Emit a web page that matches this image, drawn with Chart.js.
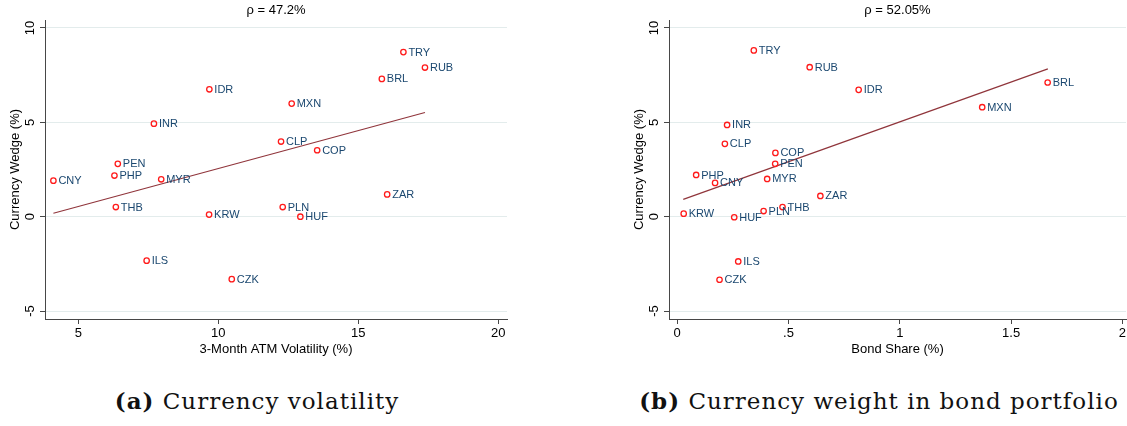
<!DOCTYPE html>
<html>
<head>
<meta charset="utf-8">
<script src="https://cdn.jsdelivr.net/npm/chart.js@4.4.1/dist/chart.umd.min.js"></script>
<style>
  html, body { margin: 0; padding: 0; background: #ffffff; }
  body { width: 1127px; height: 426px; position: relative; overflow: hidden; }
  canvas { position: absolute; top: 0; }
  #chartA { left: 0; }
  #chartB { left: 600px; }
  .caption {
    position: absolute; top: 387px; font-family: "DejaVu Serif", serif;
    font-size: 23px; letter-spacing: 1px; color: #111; white-space: nowrap;
    transform: translateX(-50%);
  }
  .caption b { font-weight: bold; }
</style>
</head>
<body>
<canvas id="chartA" width="520" height="362"></canvas>
<canvas id="chartB" width="527" height="362"></canvas>
<div class="caption" style="left:257px"><b>(a)</b> Currency volatility</div>
<div class="caption" style="left:879px"><b>(b)</b> Currency weight in bond portfolio</div>

<script>
// Currencies, in the same order for every series below
const currencies = ['CNY','PHP','PEN','THB','ILS','INR','MYR','KRW','IDR','CZK','CLP','PLN','MXN','HUF','COP','BRL','ZAR','TRY','RUB'];

// Panel (a): 3-month ATM implied volatility (%) vs currency wedge (%)
const atmVolatility = [4.11, 6.29, 6.41, 6.34, 7.44, 7.70, 7.96, 9.67, 9.68, 10.48, 12.24, 12.30, 12.62, 12.93, 13.53, 15.84, 16.03, 16.61, 17.38];
const wedgeA = [1.91, 2.18, 2.80, 0.51, -2.33, 4.93, 1.98, 0.11, 6.75, -3.31, 3.98, 0.51, 5.99, 0.00, 3.52, 7.30, 1.18, 8.72, 7.90];
const fitAx = [4.11, 17.38];
const fitAy = [0.18, 5.52];
const rhoA = 'ρ = 47.2%';

// Panel (b): bond portfolio share (%) vs currency wedge (%)
const bondShare = [0.170, 0.085, 0.440, 0.473, 0.274, 0.224, 0.404, 0.029, 0.815, 0.190, 0.214, 0.388, 1.370, 0.256, 0.441, 1.664, 0.643, 0.344, 0.595];
const wedgeB = [1.79, 2.21, 2.80, 0.51, -2.37, 4.86, 2.00, 0.16, 6.72, -3.34, 3.86, 0.30, 5.80, -0.03, 3.38, 7.11, 1.10, 8.81, 7.92];
const fitBx = [0.027, 1.665];
const fitBy = [0.92, 7.83];
const rhoB = 'ρ = 52.05%';

// Axis ticks
const yTicks = [-5, 0, 5, 10];
const yTickLabels = ['-5', '0', '5', '10'];
const xTicksA = [5, 10, 15, 20];
const xTickLabelsA = ['5', '10', '15', '20'];
const xTicksB = [0, 0.5, 1, 1.5, 2];
const xTickLabelsB = ['0', '.5', '1', '1.5', '2'];

const yTitle = 'Currency Wedge (%)';
const xTitleA = '3-Month ATM Volatility (%)';
const xTitleB = 'Bond Share (%)';

const SANS = '"Liberation Sans", Arial, Helvetica, sans-serif';
const AXIS_COLOR = '#474747';
const GRID_COLOR = '#e3ecec';
const LABEL_COLOR = '#1a476f';
const MARKER_COLOR = '#ff1a1a';
const FIT_COLOR = '#90353b';

// Draws titles, tick labels and marker labels on top of the plot
const annotate = {
  id: 'annotate',
  afterDraw(chart, args, opts) {
    const ctx = chart.ctx;
    const area = chart.chartArea;
    const xs = chart.scales.x, ys = chart.scales.y;
    ctx.save();
    ctx.fillStyle = '#000';
    ctx.textAlign = 'center';
    ctx.textBaseline = 'middle';

    // title
    ctx.font = '13px ' + SANS;
    ctx.fillText(opts.title, (area.left + area.right) / 2, 10);

    // y tick labels, rotated
    opts.yTicks.forEach((v, i) => {
      const py = ys.getPixelForValue(v);
      ctx.save();
      ctx.translate(area.left - 15, py);
      ctx.rotate(-Math.PI / 2);
      ctx.fillText(opts.yTickLabels[i], 0, 0);
      ctx.restore();
    });

    // y title
    ctx.save();
    ctx.translate(area.left - 30, (area.top + area.bottom) / 2);
    ctx.rotate(-Math.PI / 2);
    ctx.fillText(opts.yTitle, 0, 0);
    ctx.restore();

    // x tick labels
    opts.xTicks.forEach((v, i) => {
      ctx.fillText(opts.xTickLabels[i], xs.getPixelForValue(v), area.bottom + 14);
    });

    // x title
    ctx.fillText(opts.xTitle, (area.left + area.right) / 2, area.bottom + 30);

    // marker labels to the right of each point
    const meta = chart.getDatasetMeta(0);
    ctx.fillStyle = LABEL_COLOR;
    ctx.textAlign = 'left';
    ctx.font = '11px ' + SANS;
    meta.data.forEach((pt, i) => {
      ctx.fillText(opts.labels[i], pt.x + 5, pt.y + 0.5);
    });
    ctx.restore();
  }
};

function makePanel(canvasId, cfg) {
  const points = cfg.x.map((v, i) => ({ x: v, y: cfg.y[i] }));
  const fit = cfg.fitX.map((v, i) => ({ x: v, y: cfg.fitY[i] }));
  return new Chart(document.getElementById(canvasId), {
    type: 'scatter',
    data: {
      datasets: [
        {
          data: points,
          pointStyle: 'circle',
          pointRadius: 2.7,
          pointHoverRadius: 2.7,
          pointBorderWidth: 1.3,
          pointBorderColor: MARKER_COLOR,
          pointBackgroundColor: 'rgba(0,0,0,0)',
          showLine: false,
          order: 1
        },
        {
          data: fit,
          showLine: true,
          borderColor: FIT_COLOR,
          borderWidth: 1.2,
          pointRadius: 0,
          fill: false,
          order: 2
        }
      ]
    },
    options: {
      responsive: false,
      animation: false,
      devicePixelRatio: 1,
      layout: { autoPadding: false, padding: { top: 20, right: cfg.padRight, bottom: 0, left: 0 } },
      plugins: {
        legend: { display: false },
        tooltip: { enabled: false },
        annotate: {
          title: cfg.title,
          yTicks: yTicks, yTickLabels: yTickLabels,
          xTicks: cfg.xTicks, xTickLabels: cfg.xTickLabels,
          yTitle: yTitle, xTitle: cfg.xTitle,
          labels: currencies
        }
      },
      scales: {
        x: {
          type: 'linear',
          min: cfg.xMin, max: cfg.xMax,
          afterBuildTicks: s => { s.ticks = cfg.xTicks.map(v => ({ value: v })); },
          afterFit: s => { s.height = 43; },
          ticks: { display: false },
          grid: { drawOnChartArea: false, drawTicks: true, tickLength: 5, tickColor: AXIS_COLOR, tickWidth: 1 },
          border: { display: true, color: AXIS_COLOR, width: 1 }
        },
        y: {
          type: 'linear',
          min: -5.42, max: 10.42,
          afterBuildTicks: s => { s.ticks = yTicks.map(v => ({ value: v })); },
          afterFit: s => { s.width = cfg.yWidth; },
          ticks: { display: false },
          grid: { color: GRID_COLOR, lineWidth: 1, drawTicks: true, tickLength: 5, tickColor: AXIS_COLOR, tickWidth: 1 },
          border: { display: true, color: AXIS_COLOR, width: 1 }
        }
      }
    },
    plugins: [annotate]
  });
}

makePanel('chartA', {
  x: atmVolatility, y: wedgeA, fitX: fitAx, fitY: fitAy,
  title: rhoA, xTitle: xTitleA,
  xTicks: xTicksA, xTickLabels: xTickLabelsA,
  xMin: 3.81, xMax: 20.31, yWidth: 45, padRight: 13
});

makePanel('chartB', {
  x: bondShare, y: wedgeB, fitX: fitBx, fitY: fitBy,
  title: rhoB, xTitle: xTitleB,
  xTicks: xTicksB, xTickLabels: xTickLabelsB,
  xMin: -0.037, xMax: 2.016, yWidth: 69, padRight: 1
});
</script>
</body>
</html>
